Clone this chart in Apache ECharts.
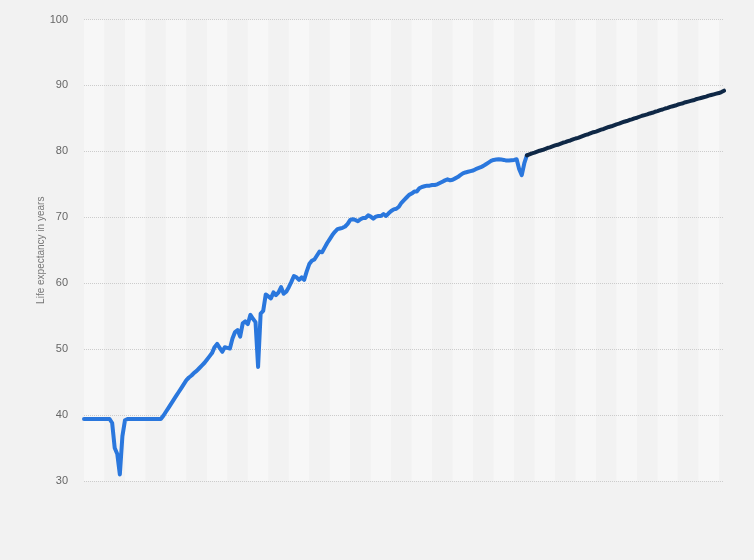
<!DOCTYPE html>
<html>
<head>
<meta charset="utf-8">
<script src="https://cdn.jsdelivr.net/npm/echarts@6/dist/echarts.min.js"></script>
<style>
html,body{margin:0;padding:0;background:#f2f2f2;}
#chart{width:754px;height:560px;}
</style>
</head>
<body>
<div id="chart"></div>
<script>
// Years 1850..2100 (category axis, labels hidden in the reference)
const startYear = 1850;
const endYear = 2100;
const years = [];
for (let y = startYear; y <= endYear; y++) years.push(String(y));

// Historical life expectancy, 1850..2023
const historical = [
  39.4,39.4,39.4,39.4,39.4,39.4,39.4,39.4,39.4,39.4,39.4,          // 1850-1860
  38.8,35.0,34.1,31.0,36.8,39.2,                                  // 1861-1866
  39.4,39.4,39.4,39.4,39.4,39.4,39.4,39.4,39.4,39.4,39.4,39.4,39.4,39.4, // 1867-1880
  39.9,40.5,41.1,41.7,42.3,42.9,43.5,44.1,44.7,45.3,              // 1881-1890
  45.7,46.0,46.4,46.7,47.1,47.5,47.9,48.4,48.9,49.4,              // 1891-1900
  50.3,50.8,50.2,49.6,50.3,50.2,50.1,51.6,52.6,52.9,              // 1901-1910
  51.9,53.9,54.2,53.8,55.2,54.6,54.1,47.3,55.4,55.8,              // 1911-1920
  58.3,58.0,57.7,58.6,58.2,58.6,59.4,58.4,58.7,59.4,              // 1921-1930
  60.2,61.1,60.9,60.5,60.9,60.5,61.8,62.9,63.4,63.6,              // 1931-1940
  64.2,64.8,64.7,65.4,66.1,66.7,67.3,67.8,68.2,68.3,              // 1941-1950
  68.4,68.6,69.0,69.6,69.7,69.6,69.4,69.7,69.9,69.9,              // 1951-1960
  70.3,70.1,69.8,70.1,70.2,70.2,70.5,70.2,70.6,70.95,             // 1961-1970
  71.2,71.3,71.6,72.2,72.6,73.0,73.4,73.6,73.9,73.9,              // 1971-1980
  74.4,74.6,74.7,74.8,74.8,74.9,74.9,75.0,75.2,75.4,              // 1981-1990
  75.6,75.75,75.6,75.7,75.9,76.1,76.4,76.65,76.8,76.9,            // 1991-2000
  77.0,77.1,77.3,77.45,77.6,77.8,78.05,78.3,78.55,78.7,           // 2001-2010
  78.75,78.8,78.75,78.7,78.6,78.6,78.65,78.7,78.8,77.3,           // 2011-2020
  76.4,78.2,79.4                                                  // 2021-2023
];

// Projection, 2023..2100
const projection = [
  79.4,79.55,79.7,79.8,79.95,80.1,80.2,80.35,80.5,80.6,           // 2023-2032
  80.75,80.9,81.0,81.15,81.3,81.4,81.55,81.65,81.8,81.95,         // 2033-2042
  82.05,82.2,82.35,82.5,82.6,82.75,82.9,83.0,83.15,83.3,          // 2043-2052
  83.4,83.55,83.7,83.8,83.95,84.1,84.2,84.35,84.5,84.6,           // 2053-2062
  84.75,84.85,85.0,85.1,85.25,85.4,85.5,85.6,85.75,85.85,         // 2063-2072
  86.0,86.1,86.25,86.35,86.5,86.6,86.75,86.85,86.95,87.1,         // 2073-2082
  87.2,87.3,87.45,87.55,87.65,87.75,87.9,88.0,88.1,88.2,          // 2083-2092
  88.3,88.45,88.55,88.65,88.75,88.85,89.0,89.2                    // 2093-2100
];
const projectionStart = 2023;

const yMin = 30, yMax = 100, yStep = 10;
const yAxisName = 'Life expectancy in years';

// Align series to the category axis
const histSeries = years.map((y, i) => i < historical.length ? historical[i] : null);
const projOffset = projectionStart - startYear;
const projSeries = years.map((y, i) => (i >= projOffset && i - projOffset < projection.length) ? projection[i - projOffset] : null);

const chart = echarts.init(document.getElementById('chart'), null, {renderer: 'canvas'});
chart.setOption({
  backgroundColor: '#f2f2f2',
  animation: false,
  textStyle: {fontFamily: 'Liberation Sans, Arial, sans-serif'},
  grid: {left: 84, right: 30, top: 19.5, bottom: 79, containLabel: false},
  xAxis: {
    type: 'category',
    z: 0,
    data: years,
    boundaryGap: false,
    axisLine: {show: false},
    axisTick: {show: false, interval: 7},
    axisLabel: {show: false, interval: 7},
    splitLine: {show: false},
    splitArea: {show: true, interval: 7, areaStyle: {color: ['#f7f7f7', '#f2f2f2']}}
  },
  yAxis: {
    type: 'value',
    z: 1,
    min: yMin, max: yMax, interval: yStep,
    name: yAxisName,
    nameLocation: 'middle',
    nameGap: 38,
    nameMoveOverlap: false,
    nameTextStyle: {color: '#777', fontSize: 10},
    axisLine: {show: false},
    axisTick: {show: false},
    axisLabel: {color: '#666', fontSize: 11, margin: 16},
    splitLine: {lineStyle: {color: '#cccccc', type: [1, 1], width: 1}}
  },
  series: [
    {
      name: 'Historical',
      type: 'line',
      data: histSeries,
      symbol: 'none',
      connectNulls: false,
      lineStyle: {color: '#2a77dd', width: 4, join: 'round', cap: 'round'},
      itemStyle: {color: '#2a77dd'},
      z: 3
    },
    {
      name: 'Projection',
      type: 'line',
      data: projSeries,
      symbol: 'none',
      connectNulls: false,
      lineStyle: {color: '#0f2846', width: 4, join: 'round', cap: 'round'},
      itemStyle: {color: '#0f2846'},
      z: 4
    }
  ]
});
</script>
</body>
</html>
